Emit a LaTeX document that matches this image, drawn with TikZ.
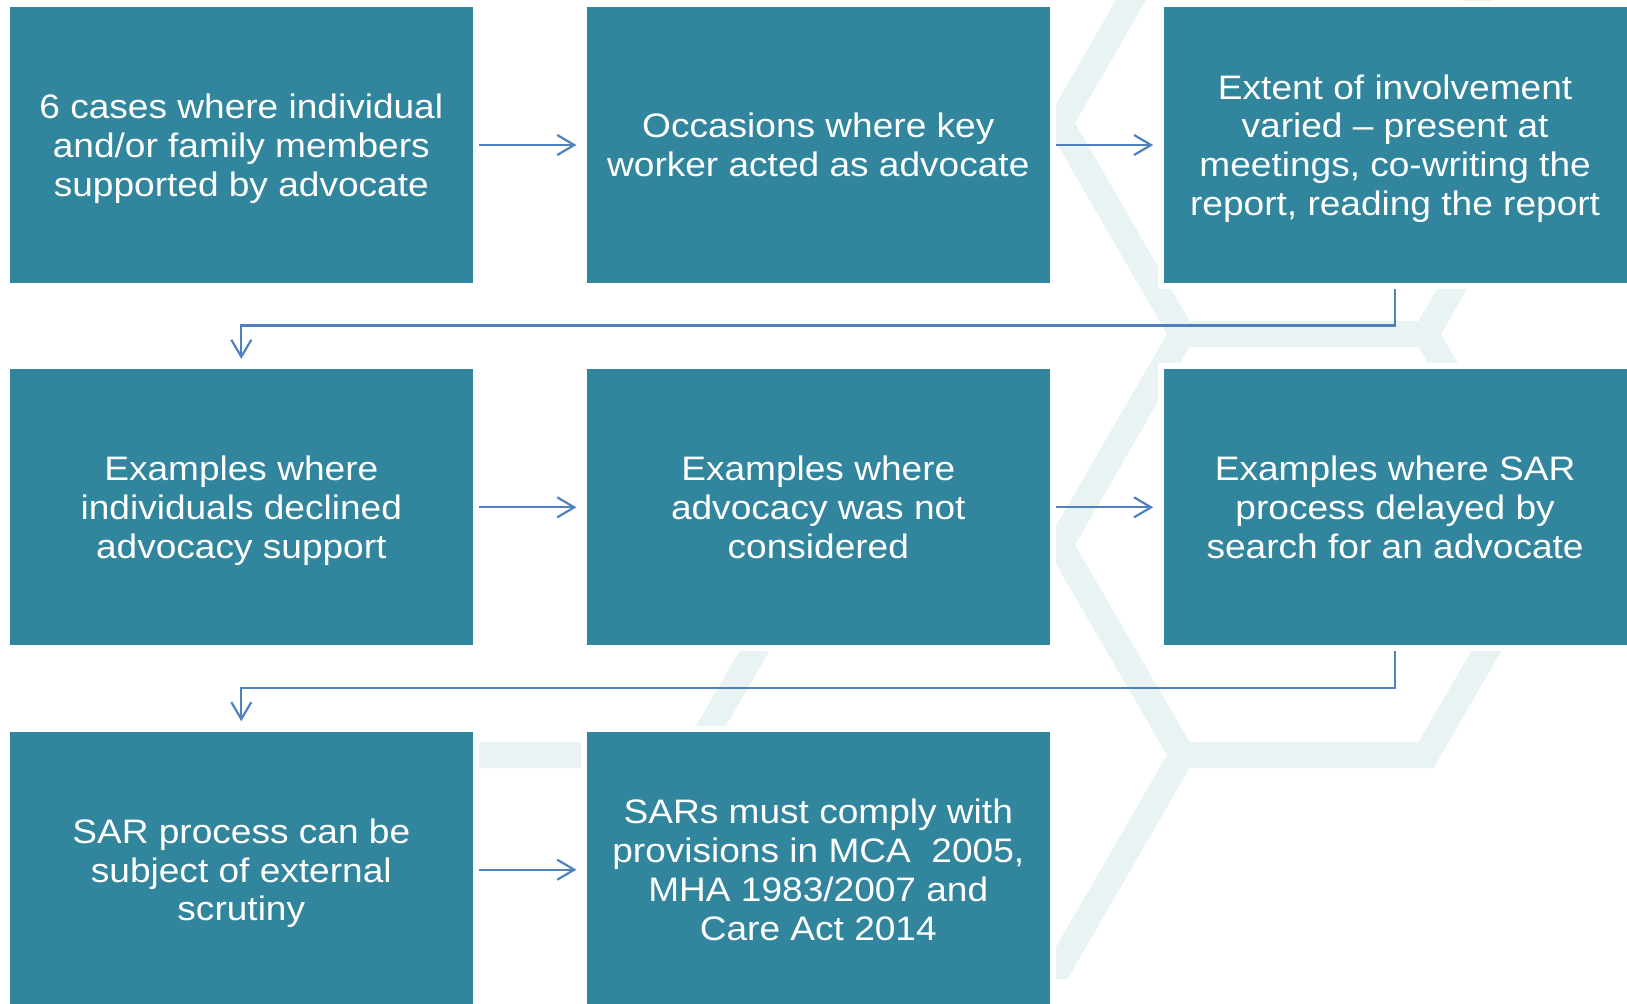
\documentclass[tikz,border=0pt]{standalone}
\usepackage{fontspec}
\setmainfont{Liberation Sans}[FakeStretch=1.09]
\usetikzlibrary{arrows.meta}
\definecolor{boxteal}{RGB}{49,133,156}
\definecolor{connblue}{RGB}{79,129,189}
\definecolor{hexpale}{RGB}{233,243,244}

\begin{document}
\begin{tikzpicture}[x=0.5pt,y=0.5pt,yscale=-1,xscale=1,
  box/.style={draw=white,line width=3pt,fill=boxteal,text=white,minimum width=234.5pt,minimum height=141pt,inner sep=0pt,align=center,text depth=0pt,font=\fontsize{17}{19.4}\selectfont},
  conn/.style={draw=connblue,line width=1.1pt,shorten >=2.2pt,-{Straight Barb[length=8.5pt,width=10pt]}},
  hexband/.style={draw=hexpale,line width=13pt}]
\useasboundingbox (0,0) rectangle (1627,1003);

%Shape: Hexagon [upper]
\draw [hexband] (1060,123) -- (1182,334) -- (1426,334) -- (1548,123) -- (1426,-88) -- (1182,-88) -- cycle ;
%Shape: Hexagon [lower]
\draw [hexband] (1060,545) -- (1182,334) -- (1426,334) -- (1548,545) -- (1426,755) -- (1182,755) -- cycle ;
%Straight Lines
\draw [hexband] (1182,755) -- (1060,966) -- (816,966) ;
%Straight Lines
\draw [hexband] (450,755) -- (694,755) -- (816,545) ;

% Row 1
\node [box] (b1) at (241.3,145) {6 cases where individual\\and/or family members\\supported by advocate};
\node [box] (b2) at (818.3,145) {Occasions where key\\worker acted as advocate};
\node [box] (b3) at (1395.1,145) {Extent of involvement\\varied – present at\\meetings, co-writing the\\report, reading the report};
% Row 2
\node [box] (b4) at (241.3,507.3) {Examples where\\individuals declined\\advocacy support};
\node [box] (b5) at (818.3,507.3) {Examples where\\advocacy was not\\considered};
\node [box] (b6) at (1395.1,507.3) {Examples where SAR\\process delayed by\\search for an advocate};
% Row 3
\node [box] (b7) at (241.3,869.7) {SAR process can be\\subject of external\\scrutiny};
\node [box] (b8) at (818.3,869.7) {SARs must comply with\\provisions in MCA\ \ 2005,\\MHA 1983/2007 and\\Care Act 2014};

%Connectors
\draw [conn] (b1.east) -- (b2.west) ;
\draw [conn] (b2.east) -- (b3.west) ;
\draw [conn] (b3.south) -- ++(0,36.5) -| (b4.north) ;
\draw [conn] (b4.east) -- (b5.west) ;
\draw [conn] (b5.east) -- (b6.west) ;
\draw [conn] (b6.south) -- ++(0,37) -| (b7.north) ;
\draw [conn] (b7.east) -- (b8.west) ;

\end{tikzpicture}
\end{document}
